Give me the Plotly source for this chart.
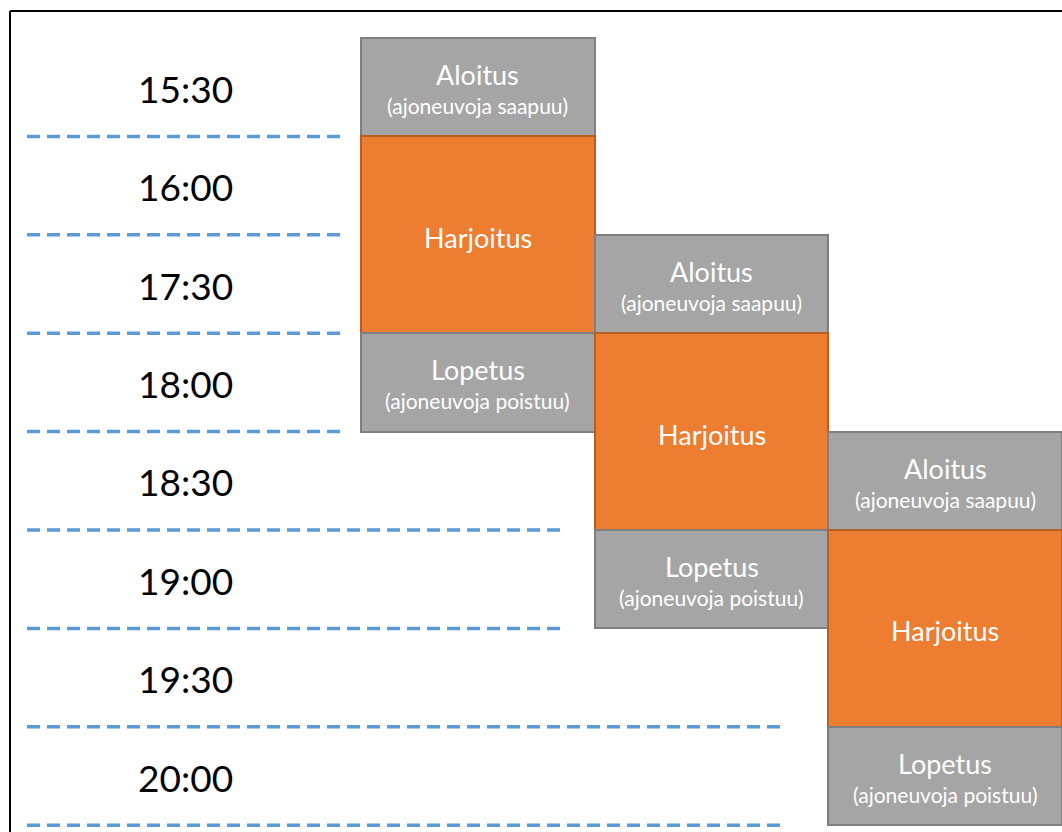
import plotly.graph_objects as go

# ---- data ----
time_labels = ["15:30", "16:00", "17:30", "18:00", "18:30", "19:00", "19:30", "20:00"]
session_start_slot = [0, 2, 4]          # slot index where each session begins
phase_names = ["Aloitus", "Harjoitus", "Lopetus"]
phase_subtitles = ["(ajoneuvoja saapuu)", "", "(ajoneuvoja poistuu)"]
phase_slots = [1, 2, 1]                 # duration of each phase in slots
divider_slots = [1, 2, 3, 4, 5, 6, 7, 8]
divider_end = [-0.077, -0.077, -0.077, -0.077, 0.873, 0.873, 1.814, 1.814]
divider_start = -1.429
label_x = -0.753

phase_fill = {"Aloitus": "#A5A5A5", "Harjoitus": "#ED7D31", "Lopetus": "#A5A5A5"}
phase_edge = {"Aloitus": "#7F7F7F", "Harjoitus": "#B65F22", "Lopetus": "#7F7F7F"}

FONT = "Lato, 'Open Sans', sans-serif"

fig = go.Figure()

# dashed dividers
for ys, xe in zip(divider_slots, divider_end):
    fig.add_trace(go.Scatter(
        x=[divider_start, xe], y=[ys, ys], mode="lines",
        line=dict(color="#5B9BD5", width=3.5, dash="13px,7px"),
        hoverinfo="skip", showlegend=False))

annotations = []
# time labels
for i, t in enumerate(time_labels):
    annotations.append(dict(x=label_x, y=i + 0.5, text=t, showarrow=False, yshift=-1,
                            font=dict(family=FONT, size=37, color="#000000")))

# boxes
for s, start in enumerate(session_start_slot):
    base = start
    for name, sub, dur in zip(phase_names, phase_subtitles, phase_slots):
        fig.add_trace(go.Bar(
            x=[s + 0.5], y=[dur], base=[base], width=[1.0],
            marker=dict(color=phase_fill[name],
                        line=dict(color=phase_edge[name], width=2)),
            hoverinfo="skip", showlegend=False))
        cy = base + dur / 2
        if sub:
            annotations.append(dict(x=s + 0.5, y=cy, text=name, showarrow=False,
                                    yshift=12.5, font=dict(family=FONT, size=27, color="white")))
            annotations.append(dict(x=s + 0.5, y=cy, text=sub, showarrow=False,
                                    yshift=-18.5, font=dict(family=FONT, size=21, color="white")))
        else:
            annotations.append(dict(x=s + 0.5, y=cy, text=name, showarrow=False,
                                    yshift=-2.5, font=dict(family=FONT, size=27, color="white")))
        base += dur

W, H = 1062, 832
fig.update_layout(
    width=W, height=H,
    margin=dict(l=0, r=0, t=0, b=0),
    paper_bgcolor="white", plot_bgcolor="white",
    barmode="overlay", bargap=0,
    annotations=annotations,
    xaxis=dict(range=[-1.5447, 2.9996], visible=False, fixedrange=True),
    yaxis=dict(range=[8.069, -0.3862], visible=False, fixedrange=True),
    shapes=[
        dict(type="line", xref="paper", yref="paper", x0=10 / W, x1=10 / W,
             y0=1 - 11 / H, y1=0, line=dict(color="black", width=2)),
        dict(type="line", xref="paper", yref="paper", x0=10 / W, x1=1,
             y0=1 - 11 / H, y1=1 - 11 / H, line=dict(color="black", width=2)),
    ],
)

fig.write_html("out.html", config={"displayModeBar": False},
               post_script="document.body.style.margin='0px';document.body.style.overflow='hidden';")
